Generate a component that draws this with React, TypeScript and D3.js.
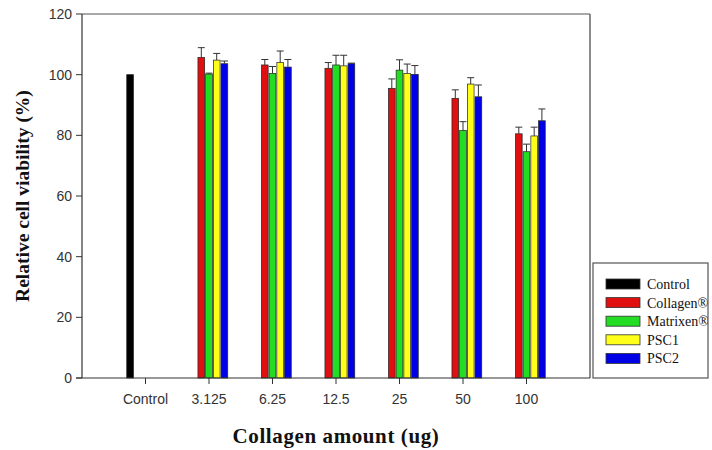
import React from "react"
import * as d3 from "d3"

const categories = ["Control", "3.125", "6.25", "12.5", "25", "50", "100"]
const seriesNames = ["Control", "Collagen®", "Matrixen®", "PSC1", "PSC2"]
const seriesColors = ["#000000", "#e01010", "#22dd22", "#ffff1a", "#0000e6"]

const controlValues = [100, null, null, null, null, null, null]
const collagenValues = [null, 105.7, 103.2, 102.1, 95.5, 92.2, 80.5]
const collagenErrors = [null, 3.2, 1.8, 1.9, 3.1, 2.8, 2.2]
const matrixenValues = [null, 100.2, 100.4, 103.2, 101.5, 81.6, 74.6]
const matrixenErrors = [null, 0.3, 2.3, 3.2, 3.4, 2.9, 2.5]
const psc1Values = [null, 104.8, 104, 102.9, 100.4, 96.9, 79.8]
const psc1Errors = [null, 2.2, 3.8, 3.5, 3.1, 2.1, 2.9]
const psc2Values = [null, 103.6, 102.5, 103.6, 100.1, 92.7, 84.8]
const psc2Errors = [null, 0.9, 2.5, 0.2, 2.9, 3.9, 3.9]

const yTicks = [0, 20, 40, 60, 80, 100, 120]

const allValues = [controlValues, collagenValues, matrixenValues, psc1Values, psc2Values]
const allErrors = [null, collagenErrors, matrixenErrors, psc1Errors, psc2Errors]

const margin = { top: 14, right: 122, bottom: 72, left: 82 }
const width = 712
const height = 450

export default function App() {
  const x = d3
    .scalePoint()
    .domain(categories)
    .range([margin.left, width - margin.right])
    .padding(1)

  // each category holds 5 slots, one per series
  const slot = 7.5
  const xs = d3
    .scaleBand()
    .domain(seriesNames)
    .range([-slot * 2.5, slot * 2.5])
    .paddingInner(0.13)

  const y = d3.scaleLinear().domain([0, 120]).range([height - margin.bottom, margin.top])

  const x0 = margin.left
  const x1 = width - margin.right
  const y0 = y(0)
  const yTop = y(120)

  const bars: any[] = []
  const errs: any[] = []
  seriesNames.forEach((s, si) => {
    categories.forEach((c, ci) => {
      const v = allValues[si][ci]
      if (v == null) return
      const bx = (x(c) as number) + (xs(s) as number)
      const bw = xs.bandwidth()
      bars.push(
        <rect
          key={s + c}
          x={bx}
          y={y(v)}
          width={bw}
          height={y0 - y(v)}
          fill={seriesColors[si]}
          stroke="#222"
          strokeWidth={0.7}
        />
      )
      const e = allErrors[si] ? allErrors[si]![ci] : null
      if (e != null) {
        const cx = bx + bw / 2
        errs.push(
          <g key={"e" + s + c} stroke="#333" strokeWidth={1}>
            <line x1={cx} x2={cx} y1={y(v)} y2={y(v + e)} />
            <line x1={cx - 3.5} x2={cx + 3.5} y1={y(v + e)} y2={y(v + e)} />
          </g>
        )
      }
    })
  })

  const legendX = 593
  const legendY = 263

  return (
    <div style={{ position: "absolute", left: 0, top: 0 }}>
      <svg width={width} height={height} style={{ display: "block", background: "#fff" }}>
        <defs>
          <clipPath id="legclip">
            <rect x={legendX} y={legendY} width={115} height={115} />
          </clipPath>
        </defs>
        {/* frame */}
        <line x1={x0} x2={x1} y1={yTop} y2={yTop} stroke="#555" strokeWidth={1.2} />
        <line x1={x1} x2={x1} y1={yTop} y2={y0} stroke="#666" strokeWidth={1.5} />

        {bars}
        {errs}

        {/* y axis */}
        <line x1={x0} x2={x0} y1={yTop} y2={y0} stroke="#333" strokeWidth={1.2} />
        {yTicks.map(t => (
          <g key={t}>
            <line x1={x0 - 6} x2={x0} y1={y(t)} y2={y(t)} stroke="#333" strokeWidth={1} />
            <text
              x={x0 - 10}
              y={y(t)}
              dy="0.35em"
              textAnchor="end"
              fontFamily="Arial, 'Liberation Sans', sans-serif"
              fontSize={14}
              fill="#333"
            >
              {t}
            </text>
          </g>
        ))}

        {/* x axis */}
        <line x1={x0 - 6} x2={x1} y1={y0} y2={y0} stroke="#333" strokeWidth={1.2} />
        {categories.map(c => (
          <g key={c}>
            <line x1={x(c)} x2={x(c)} y1={y0} y2={y0 + 6} stroke="#333" strokeWidth={1} />
            <text
              x={x(c)}
              y={y0 + 21}
              dy="0.35em"
              textAnchor="middle"
              fontFamily="Arial, 'Liberation Sans', sans-serif"
              fontSize={14}
              fill="#333"
            >
              {c}
            </text>
          </g>
        ))}

        <text
          transform={`translate(22,${(yTop + y0) / 2}) rotate(-90)`}
          textAnchor="middle"
          dy="0.35em"
          fontFamily="'Liberation Serif', 'Times New Roman', serif"
          fontWeight="bold"
          fontSize={19.5}
          fill="#111"
        >
          Relative cell viability (%)
        </text>
        <text
          x={(x0 + x1) / 2}
          y={436}
          textAnchor="middle"
          dy="0.35em"
          fontFamily="'Liberation Serif', 'Times New Roman', serif"
          fontWeight="bold"
          fontSize={21}
          letterSpacing={0.6}
          fill="#111"
        >
          Collagen amount (ug)
        </text>

        {/* legend */}
        <rect x={legendX} y={legendY} width={115} height={115} fill="#fff" stroke="#555" strokeWidth={1.2} />
        <g clipPath="url(#legclip)">
          {seriesNames.map((s, i) => (
            <g key={s} transform={`translate(${legendX + 13},${legendY + 21 + i * 18.6})`}>
              <rect x={0} y={-5} width={34} height={10} fill={seriesColors[i]} stroke="#333" strokeWidth={0.8} />
              <text
                x={41}
                y={0}
                dy="0.35em"
                fontFamily="'Liberation Serif', 'Times New Roman', serif"
                fontSize={14}
                fill="#111"
              >
                {s}
              </text>
            </g>
          ))}
        </g>
      </svg>
    </div>
  )
}
